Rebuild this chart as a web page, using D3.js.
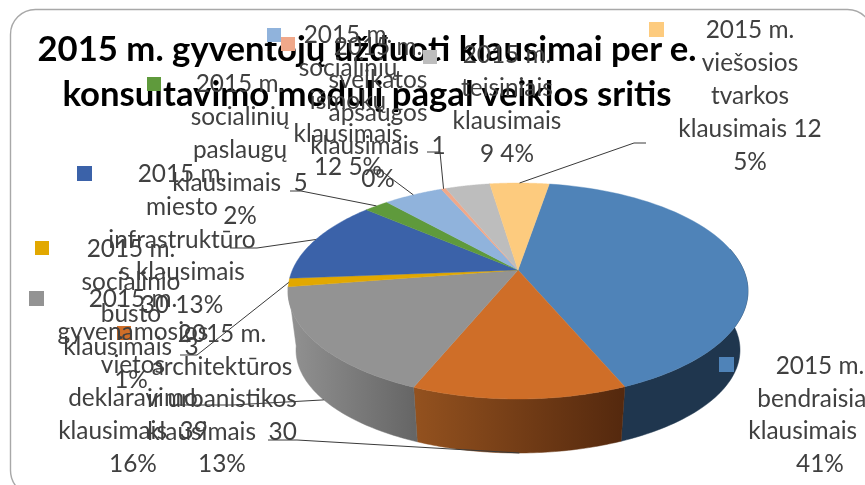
<!DOCTYPE html>
<html><head><meta charset="utf-8">
<script src="https://cdn.jsdelivr.net/npm/d3@7"></script>
<style>html,body{margin:0;padding:0;background:#fff;overflow:hidden}svg{filter:blur(.45px)}</style>
</head><body><svg id="c" width="865" height="485"></svg>
<script>
const titleLines = ["2015 m. gyventojų užduoti klausimai per e.", "konsultavimo modulį pagal veiklos sritis"];
const values = [98, 30, 39, 3, 30, 5, 12, 1, 9, 12];
const labelLines = [
  ["2015 m.", "bendraisiais", "\u00a0klausimais  98", "41%"],
  ["2015 m.", "architektūros", "ir urbanistikos", "klausimais  30", "13%"],
  ["2015 m.", "gyvenamosios", "vietos", "deklaravimo", "klausimais  39", "16%"],
  ["2015 m.", "socialinio", "būsto", "klausimais  3", "1%"],
  ["2015 m.", "miesto", "infrastruktūro", "s klausimais", "30 13%"],
  ["2015 m.", "socialinių", "paslaugų", "klausimais  5", "2%"],
  ["2015 m.", "socialinių", "išmokų", "klausimais", "12 5%"],
  ["2015 m.", "sveikatos", "apsaugos", "klausimais  1", "0%"],
  ["2015 m.", "teisiniais", "klausimais", "9 4%"],
  ["2015 m.", "viešosios", "tvarkos", "klausimais 12", "5%"]
];
const colors = ["#4f83b8","#cf6e28","#939393","#e2a800","#3b62a9","#5f9a3c","#90b3dc","#f0a88a","#bdbdbd","#fdcb7e"];
const labelCx = [820,222,133,131,182,240,348,378,507,750];
const labelTop = [374,342,307,257,182,92,43,55,63,38];
const labelStep = [32.7,32.6,33,32.7,32.8,33,33,33,33,33];
const markerX = [719,117,29,35,77,147,267,281,423,649];
const markerY = [357,326,291,241,166,77,28,37,50,22];
const markerS = [15,14,15,14,15,14,14,14,14,15];
// leader elbows: [elbow x, elbow y, end x]; start comes from the slice
const leaders = [null,[297,440,268],[232,405,170],[197,355,180],[257,248,230],[301,191,290],[380,170,370],[440,152,427],null,[634,143,646]];
const leaderOnBase = [false,true,true,false,false,false,false,false,false,false];

const svg = d3.select("#c");
const defs = svg.append("defs");
const grad = (id, a, b, x1, x2) => {
  const g = defs.append("linearGradient").attr("id", id).attr("gradientUnits","userSpaceOnUse")
    .attr("x1",x1).attr("x2",x2).attr("y1",0).attr("y2",0);
  g.append("stop").attr("offset",0).attr("stop-color",a);
  g.append("stop").attr("offset",1).attr("stop-color",b);
};
grad("gOrange","#94521f","#55290e",412,621);
grad("gGray","#929292","#666666",288,414);

svg.append("rect").attr("x",10.5).attr("y",9.5).attr("width",862).attr("height",486).attr("rx",25)
  .attr("fill","#fff").attr("stroke","#a8a8a8").attr("stroke-width",1.4);

// Perspective disc: circle centre projects to the apex above the ellipse centre
const v0 = -0.194, s0 = Math.sqrt(1 - v0*v0);
const xTop = d3.scaleLinear().domain([-1,1]).range([288,748]);
const yTop = d3.scaleLinear().domain([-1,1]).range([183,399]);
const xBase = d3.scaleLinear().domain([-1,1]).range([296,740]);
const yBase = d3.scaleLinear().domain([-1,1]).range([247,453]);
const proj = (a, xs, ys) => {
  const q = Math.sin(a), w = -Math.cos(a), d = 1 + v0*w;
  return [xs(s0*q/d), ys((w+v0)/d)];
};
const apex = [xTop(0), yTop(v0)];
const arcs = d3.pie().sort(null).startAngle(9.5*Math.PI/180).endAngle(9.5*Math.PI/180 + 2*Math.PI)(values);
const sample = (a0, a1) => d3.range(0, 61).map(i => a0 + (a1-a0)*i/60);
const line = d3.line();

// walls
const wallFill = ["#1f364e","url(#gOrange)","url(#gGray)"];
const lo = 78*Math.PI/180, hi = 282*Math.PI/180;
arcs.slice(0,3).forEach((d,i) => {
  const a0 = Math.max(d.startAngle, lo), a1 = Math.min(d.endAngle, hi);
  if (a1 <= a0) return;
  const as = sample(a0,a1);
  const pts = as.map(a => proj(a,xTop,yTop)).concat(as.slice().reverse().map(a => proj(a,xBase,yBase)));
  svg.append("path").attr("d", line(pts)+"Z").attr("fill",wallFill[i]).attr("stroke",wallFill[i]).attr("stroke-width",.5);
});
// top faces
svg.selectAll("path.top").data(arcs).join("path").attr("class","top")
  .attr("d", d => line([apex].concat(sample(d.startAngle,d.endAngle).map(a => proj(a,xTop,yTop))))+"Z")
  .attr("fill",(d,i)=>colors[i]).attr("stroke",(d,i)=>colors[i]).attr("stroke-width",.4);

// leaders
arcs.forEach((d,i) => {
  if (!leaders[i]) return;
  const mid = (d.startAngle+d.endAngle)/2;
  const st = leaderOnBase[i] ? proj(mid,xBase,yBase) : proj(mid,xTop,yTop);
  const [ex,ey,tx] = leaders[i];
  svg.append("path").attr("d", line([st,[ex,ey],[tx,ey]])).attr("fill","none").attr("stroke","#3a3a3a").attr("stroke-width",1);
});

// title
const title = svg.append("text").attr("font-family","Lato").attr("font-weight",700).attr("font-size",34.7).attr("fill","#000").attr("text-anchor","middle");
title.selectAll("tspan").data(titleLines).join("tspan").attr("x",367).attr("y",(d,i)=>[61,106][i]).text(d=>d);

// markers
svg.selectAll("rect.m").data(values).join("rect").attr("class","m")
  .attr("x",(d,i)=>markerX[i]).attr("y",(d,i)=>markerY[i]).attr("width",(d,i)=>markerS[i]).attr("height",(d,i)=>markerS[i])
  .attr("fill",(d,i)=>colors[i]);

// labels
labelLines.forEach((ls,i) => {
  const t = svg.append("text").attr("font-family","Lato").attr("font-size",24.4).attr("fill","#404040").attr("text-anchor","middle").attr("xml:space","preserve");
  t.selectAll("tspan").data(ls).join("tspan").attr("x",labelCx[i]).attr("y",(d,j)=>labelTop[i]+j*labelStep[i]).text(d=>d);
});
</script></body></html>
